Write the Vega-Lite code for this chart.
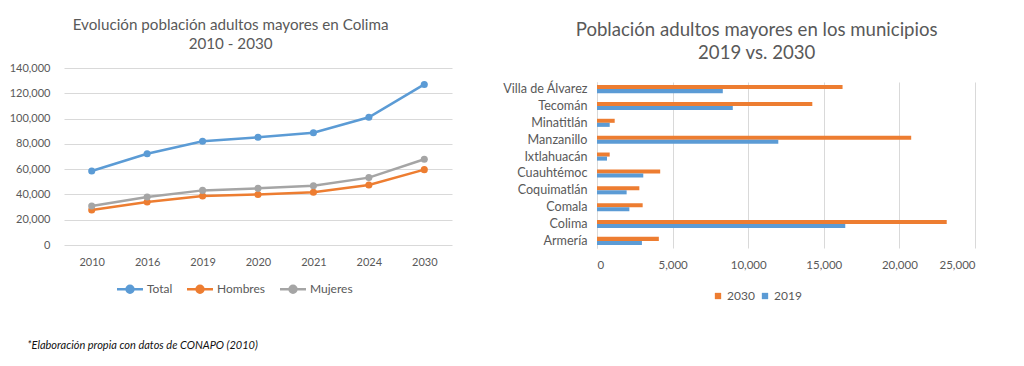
{
  "$schema": "https://vega.github.io/schema/vega-lite/v6.json",
  "background": "white",
  "padding": {"left": 9, "top": 17, "right": 5, "bottom": 5},
  "spacing": 50,
  "resolve": {"scale": {"color": "independent"}, "legend": {"color": "independent"}},
  "config": {
    "font": "Lato",
    "view": {"stroke": null},
    "axis": {"labelFont": "Lato", "labelColor": "#595959", "gridColor": "#d9d9d9", "domainColor": "#d9d9d9", "ticks": false},
    "legend": {"labelFont": "Lato", "labelColor": "#595959", "labelFontSize": 12},
    "title": {"font": "Lato", "color": "#595959", "fontWeight": "normal"}
  },
  "title": {
    "text": "*Elaboración propia con datos de CONAPO (2010)",
    "orient": "bottom",
    "anchor": "start",
    "frame": "bounds",
    "fontSize": 11,
    "fontStyle": "italic",
    "color": "#111111",
    "offset": 38,
    "dx": 18
  },
  "datasets": {
    "lineas": [
      {"anio": "2010", "serie": "Total", "valor": 58500},
      {"anio": "2016", "serie": "Total", "valor": 72200},
      {"anio": "2019", "serie": "Total", "valor": 82000},
      {"anio": "2020", "serie": "Total", "valor": 85200},
      {"anio": "2021", "serie": "Total", "valor": 88800},
      {"anio": "2024", "serie": "Total", "valor": 101000},
      {"anio": "2030", "serie": "Total", "valor": 127000},
      {"anio": "2010", "serie": "Hombres", "valor": 27700},
      {"anio": "2016", "serie": "Hombres", "valor": 34000},
      {"anio": "2019", "serie": "Hombres", "valor": 38800},
      {"anio": "2020", "serie": "Hombres", "valor": 40000},
      {"anio": "2021", "serie": "Hombres", "valor": 41700},
      {"anio": "2024", "serie": "Hombres", "valor": 47500},
      {"anio": "2030", "serie": "Hombres", "valor": 59600},
      {"anio": "2010", "serie": "Mujeres", "valor": 30800},
      {"anio": "2016", "serie": "Mujeres", "valor": 38000},
      {"anio": "2019", "serie": "Mujeres", "valor": 43200},
      {"anio": "2020", "serie": "Mujeres", "valor": 44800},
      {"anio": "2021", "serie": "Mujeres", "valor": 46900},
      {"anio": "2024", "serie": "Mujeres", "valor": 53300},
      {"anio": "2030", "serie": "Mujeres", "valor": 67800}
    ],
    "barras": [
      {"municipio": "Villa de Álvarez", "anio": "2030", "valor": 16240},
      {"municipio": "Villa de Álvarez", "anio": "2019", "valor": 8320},
      {"municipio": "Tecomán", "anio": "2030", "valor": 14240},
      {"municipio": "Tecomán", "anio": "2019", "valor": 8980},
      {"municipio": "Minatitlán", "anio": "2030", "valor": 1170},
      {"municipio": "Minatitlán", "anio": "2019", "valor": 840},
      {"municipio": "Manzanillo", "anio": "2030", "valor": 20780},
      {"municipio": "Manzanillo", "anio": "2019", "valor": 11990},
      {"municipio": "Ixtlahuacán", "anio": "2030", "valor": 840},
      {"municipio": "Ixtlahuacán", "anio": "2019", "valor": 660},
      {"municipio": "Cuauhtémoc", "anio": "2030", "valor": 4180},
      {"municipio": "Cuauhtémoc", "anio": "2019", "valor": 3060},
      {"municipio": "Coquimatlán", "anio": "2030", "valor": 2800},
      {"municipio": "Coquimatlán", "anio": "2019", "valor": 1960},
      {"municipio": "Comala", "anio": "2030", "valor": 3020},
      {"municipio": "Comala", "anio": "2019", "valor": 2140},
      {"municipio": "Colima", "anio": "2030", "valor": 23130},
      {"municipio": "Colima", "anio": "2019", "valor": 16420},
      {"municipio": "Armería", "anio": "2030", "valor": 4090},
      {"municipio": "Armería", "anio": "2019", "valor": 2970}
    ]
  },
  "hconcat": [
    {
      "data": {"name": "lineas"},
      "width": 388,
      "height": 177,
      "title": {
        "text": ["Evolución población adultos mayores en Colima", "2010 - 2030"],
        "fontSize": 15.2,
        "lineHeight": 19,
        "frame": "bounds",
        "offset": 10
      },
      "mark": {"type": "line", "strokeWidth": 2.5, "point": {"filled": true, "size": 50}},
      "encoding": {
        "x": {
          "field": "anio", "type": "ordinal",
          "scale": {"type": "point", "padding": 0.5},
          "axis": {"title": null, "labelAngle": 0, "domain": false, "labelFontSize": 11, "labelPadding": 11}
        },
        "y": {
          "field": "valor", "type": "quantitative",
          "scale": {"domain": [0, 140000]},
          "axis": {"title": null, "format": ",.0f", "values": [0, 20000, 40000, 60000, 80000, 100000, 120000, 140000], "domain": false, "labelFontSize": 11, "labelPadding": 14}
        },
        "color": {
          "field": "serie", "type": "nominal",
          "scale": {"domain": ["Total", "Hombres", "Mujeres"], "range": ["#5B9BD5", "#ED7D31", "#A5A5A5"]},
          "legend": {
            "title": null, "orient": "none", "direction": "horizontal",
            "legendX": 56, "legendY": 211,
            "symbolType": "M-1.5,0L1.5,0M0.4,0A0.4,0.4,0,1,1,-0.4,0A0.4,0.4,0,1,1,0.4,0",
            "symbolSize": 300, "symbolStrokeWidth": 2.5,
            "labelOffset": 7, "columnPadding": 9
          }
        }
      }
    },
    {
      "spacing": 0,
      "title": {
        "text": ["Población adultos mayores en los municipios", "2019 vs. 2030"],
        "fontSize": 18.6,
        "lineHeight": 23,
        "frame": "bounds",
        "anchor": "middle",
        "offset": 5,
        "dx": 18
      },
      "vconcat": [
        {
          "data": {"values": [{}]},
          "width": 378,
          "height": 14,
          "mark": {"type": "text"},
          "encoding": {"text": {"value": ""}}
        },
        {
          "data": {"name": "barras"},
          "width": 378,
          "height": 166,
          "mark": {"type": "bar"},
          "encoding": {
            "y": {
              "field": "municipio", "type": "nominal",
              "sort": ["Villa de Álvarez", "Tecomán", "Minatitlán", "Manzanillo", "Ixtlahuacán", "Cuauhtémoc", "Coquimatlán", "Comala", "Colima", "Armería"],
              "scale": {"paddingInner": 0.52, "paddingOuter": 0.18},
              "axis": {"title": null, "domain": true, "labelFontSize": 12.6, "labelPadding": 10}
            },
            "yOffset": {"field": "anio", "type": "nominal", "sort": ["2030", "2019"]},
            "x": {
              "field": "valor", "type": "quantitative",
              "scale": {"domain": [0, 25000]},
              "axis": {"title": null, "format": ",.0f", "values": [0, 5000, 10000, 15000, 20000, 25000], "domain": false, "labelFontSize": 11.5, "labelPadding": 11}
            },
            "color": {
              "field": "anio", "type": "nominal",
              "scale": {"domain": ["2030", "2019"], "range": ["#ED7D31", "#5B9BD5"]},
              "legend": {
                "title": null, "orient": "none", "direction": "horizontal",
                "legendX": 115, "legendY": 222,
                "symbolType": "square", "symbolSize": 40,
                "labelOffset": 3, "columnPadding": 4
              }
            }
          }
        }
      ]
    }
  ]
}
